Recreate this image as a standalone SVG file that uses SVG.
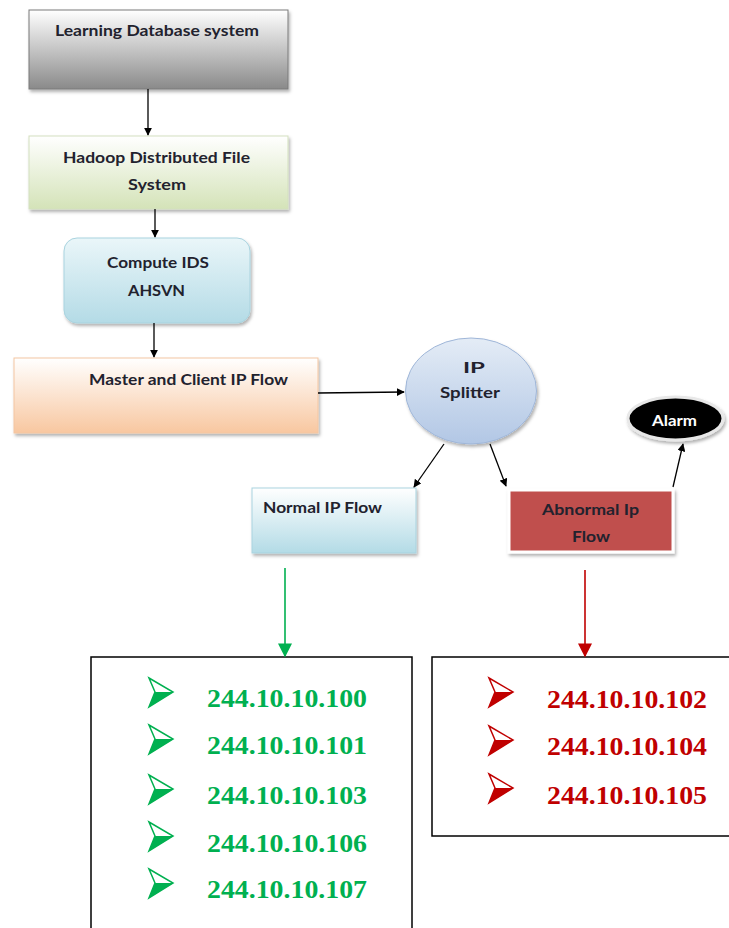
<svg xmlns="http://www.w3.org/2000/svg" width="729" height="928" viewBox="0 0 729 928">
<defs>
<linearGradient id="gGray" x1="0" y1="0" x2="0" y2="1"><stop offset="0" stop-color="#ffffff"/><stop offset="1" stop-color="#8a8a8a"/></linearGradient>
<linearGradient id="gGreen" x1="0" y1="0" x2="0" y2="1"><stop offset="0" stop-color="#ffffff"/><stop offset="1" stop-color="#d4e3b8"/></linearGradient>
<linearGradient id="gBlue" x1="0" y1="0" x2="0" y2="1"><stop offset="0" stop-color="#eaf6f9"/><stop offset="1" stop-color="#b4dbe6"/></linearGradient>
<linearGradient id="gOrange" x1="0" y1="0" x2="0" y2="1"><stop offset="0" stop-color="#ffffff"/><stop offset="1" stop-color="#f8c7a0"/></linearGradient>
<linearGradient id="gSplit" x1="0" y1="0" x2="0" y2="1"><stop offset="0" stop-color="#e4ecf6"/><stop offset="1" stop-color="#b2c7e5"/></linearGradient>
<linearGradient id="gNormal" x1="0" y1="0" x2="0" y2="1"><stop offset="0" stop-color="#ffffff"/><stop offset="1" stop-color="#b3dbe6"/></linearGradient>
<filter id="sh" x="-10%" y="-10%" width="125%" height="130%"><feDropShadow dx="1.5" dy="2.5" stdDeviation="1.5" flood-color="#000" flood-opacity="0.3"/></filter>
<marker id="ah" viewBox="0 0 10 10" refX="9" refY="5" markerWidth="8" markerHeight="8" markerUnits="userSpaceOnUse" orient="auto"><path d="M0,0 L10,5 L0,10 z" fill="#000"/></marker>
<marker id="ahG" viewBox="0 0 10 10" refX="9" refY="5" markerWidth="14" markerHeight="14" markerUnits="userSpaceOnUse" orient="auto"><path d="M0,0 L10,5 L0,10 z" fill="#00b050"/></marker>
<marker id="ahR" viewBox="0 0 10 10" refX="9" refY="5" markerWidth="14" markerHeight="14" markerUnits="userSpaceOnUse" orient="auto"><path d="M0,0 L10,5 L0,10 z" fill="#c00000"/></marker>
<g id="bulletG"><path d="M0,0 L24,14 L0,29 L6,14 Z" fill="#ffffff" stroke="#00b050" stroke-width="1.5" stroke-linejoin="miter"/><path d="M6,14 L24,14 L0,29 Z" fill="#00b050"/></g>
<g id="bulletR"><path d="M0,0 L24,14 L0,29 L6,14 Z" fill="#ffffff" stroke="#c00000" stroke-width="1.5" stroke-linejoin="miter"/><path d="M6,14 L24,14 L0,29 Z" fill="#c00000"/></g>
</defs>
<style>
.lbl{font-family:Lato,"Open Sans","Liberation Sans",sans-serif;font-weight:bold;font-size:16px;fill:#22222e}
.ipG{font-family:"Liberation Serif","Times New Roman",serif;font-weight:bold;font-size:25.5px;fill:#00b050}
.ipR{font-family:"Liberation Serif","Times New Roman",serif;font-weight:bold;font-size:25.5px;fill:#c00000}
.box{stroke:#c8c8c8;stroke-width:1}
.conn{stroke:#000;stroke-width:1.3;fill:none}
</style>
<rect width="729" height="928" fill="#ffffff"/>

<g id="learning-db">
<rect x="29" y="10" width="259" height="79" fill="url(#gGray)" stroke="#7a7a7a" stroke-width="1" filter="url(#sh)"/>
<text class="lbl" x="55" y="36" textLength="204" lengthAdjust="spacingAndGlyphs">Learning Database system</text>
</g>

<g id="hadoop">
<rect x="29" y="136" width="259" height="73" fill="url(#gGreen)" stroke="#d3e0bf" stroke-width="1" filter="url(#sh)"/>
<text class="lbl" x="63" y="163" textLength="187" lengthAdjust="spacingAndGlyphs">Hadoop Distributed File</text>
<text class="lbl" x="128" y="190" textLength="58" lengthAdjust="spacingAndGlyphs">System</text>
</g>

<g id="compute-ids">
<rect x="64" y="238" width="186" height="85" rx="13" ry="13" fill="url(#gBlue)" stroke="#a9d3df" stroke-width="1" filter="url(#sh)"/>
<text class="lbl" x="107" y="268" textLength="102" lengthAdjust="spacingAndGlyphs">Compute IDS</text>
<text class="lbl" x="128" y="296" textLength="57" lengthAdjust="spacingAndGlyphs">AHSVN</text>
</g>

<g id="master-client">
<rect x="14" y="358" width="304" height="75" fill="url(#gOrange)" stroke="#f4c6a2" stroke-width="1" filter="url(#sh)"/>
<text class="lbl" x="89" y="385" textLength="199" lengthAdjust="spacingAndGlyphs">Master and Client IP Flow</text>
</g>

<g id="ip-splitter">
<ellipse cx="471" cy="391" rx="65.5" ry="53" fill="url(#gSplit)" stroke="#9fb6d8" stroke-width="1" filter="url(#sh)"/>
<text class="lbl" x="463" y="373" textLength="22" lengthAdjust="spacingAndGlyphs">IP</text>
<text class="lbl" x="440" y="398" textLength="60" lengthAdjust="spacingAndGlyphs">Splitter</text>
</g>

<g id="alarm">
<ellipse cx="675.5" cy="418.5" rx="47.5" ry="21.5" fill="#000000" stroke="#e8e8e8" stroke-width="3" filter="url(#sh)"/>
<text class="lbl" x="652" y="426" textLength="45" lengthAdjust="spacingAndGlyphs" style="fill:#ffffff">Alarm</text>
</g>

<g id="normal-ip">
<rect x="252" y="488" width="164" height="65" fill="url(#gNormal)" stroke="#a9d3df" stroke-width="1" filter="url(#sh)"/>
<text class="lbl" x="263" y="513" textLength="119" lengthAdjust="spacingAndGlyphs">Normal IP Flow</text>
</g>

<g id="abnormal-ip">
<rect x="509" y="490" width="164" height="62" fill="#c0504d" stroke="#ffffff" stroke-width="3" filter="url(#sh)"/>
<text class="lbl" x="542" y="515" textLength="97" lengthAdjust="spacingAndGlyphs">Abnormal Ip</text>
<text class="lbl" x="572" y="542" textLength="38" lengthAdjust="spacingAndGlyphs">Flow</text>
</g>

<g id="normal-list">
<rect x="91" y="657" width="321" height="275" fill="#ffffff" stroke="#000" stroke-width="1.5"/>
<use href="#bulletG" x="149" y="678"/>
<text class="ipG" x="207" y="707" textLength="160" lengthAdjust="spacingAndGlyphs">244.10.10.100</text>
<use href="#bulletG" x="149" y="725"/>
<text class="ipG" x="207" y="754" textLength="160" lengthAdjust="spacingAndGlyphs">244.10.10.101</text>
<use href="#bulletG" x="149" y="775"/>
<text class="ipG" x="207" y="804" textLength="160" lengthAdjust="spacingAndGlyphs">244.10.10.103</text>
<use href="#bulletG" x="149" y="822"/>
<text class="ipG" x="207" y="852" textLength="160" lengthAdjust="spacingAndGlyphs">244.10.10.106</text>
<use href="#bulletG" x="149" y="869"/>
<text class="ipG" x="207" y="898" textLength="160" lengthAdjust="spacingAndGlyphs">244.10.10.107</text>
</g>

<g id="abnormal-list">
<rect x="432" y="657" width="300" height="179" fill="#ffffff" stroke="#000" stroke-width="1.5"/>
<use href="#bulletR" x="489" y="678"/>
<text class="ipR" x="547" y="708" textLength="160" lengthAdjust="spacingAndGlyphs">244.10.10.102</text>
<use href="#bulletR" x="489" y="726"/>
<text class="ipR" x="547" y="755" textLength="160" lengthAdjust="spacingAndGlyphs">244.10.10.104</text>
<use href="#bulletR" x="489" y="774"/>
<text class="ipR" x="547" y="804" textLength="160" lengthAdjust="spacingAndGlyphs">244.10.10.105</text>
</g>

<g id="connectors">
<line class="conn" x1="148" y1="89" x2="148" y2="135" marker-end="url(#ah)"/>
<line class="conn" x1="155" y1="209" x2="155" y2="237" marker-end="url(#ah)"/>
<line class="conn" x1="154" y1="323" x2="154" y2="357" marker-end="url(#ah)"/>
<line class="conn" x1="318" y1="393" x2="404" y2="392" marker-end="url(#ah)"/>
<line class="conn" x1="444" y1="444" x2="414" y2="487" marker-end="url(#ah)"/>
<line class="conn" x1="490" y1="444" x2="506" y2="486" marker-end="url(#ah)"/>
<line class="conn" x1="673" y1="487" x2="683" y2="444" marker-end="url(#ah)"/>
<line x1="285" y1="568" x2="285" y2="656" stroke="#00b050" stroke-width="1.6" marker-end="url(#ahG)"/>
<line x1="585" y1="570" x2="585" y2="656" stroke="#c00000" stroke-width="1.6" marker-end="url(#ahR)"/>
</g>
</svg>
